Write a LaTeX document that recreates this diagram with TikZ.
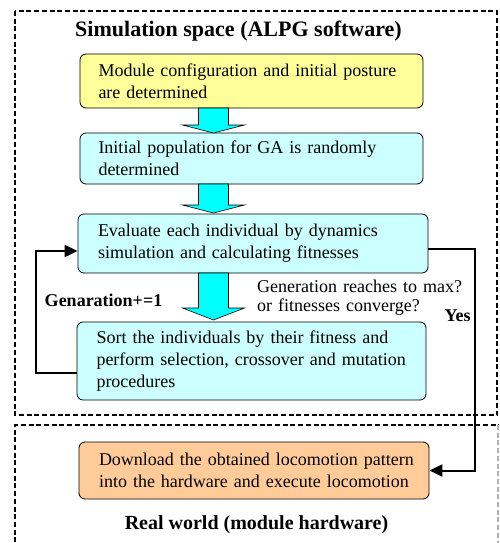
\documentclass[tikz,border=0pt]{standalone}
\usepackage{fontspec}
\setmainfont{Liberation Serif}
\usetikzlibrary{arrows.meta,calc}
\definecolor{boxyellow}{HTML}{FFFF99}
\definecolor{boxcyan}{HTML}{CCFFFF}
\definecolor{arrcyan}{HTML}{00FFFF}
\definecolor{boxorange}{HTML}{FFCC99}
\newcommand{\jline}[2]{\makebox[#1][s]{#2}}
\newcommand{\blkarrow}[3]{%
  \filldraw[fill=arrcyan,draw=black,line width=0.6pt]
    (198.5,#1) -- (228.5,#1) -- (228.5,#2) -- (244.5,#2) -- (213.5,#3)
    -- (182.5,#2) -- (198.5,#2) -- cycle;}
\begin{document}
\begin{tikzpicture}[x=1pt,y=-1pt,
  stagebox/.style={draw=black,line width=0.8pt,rounded corners=6pt,inner sep=0pt,
    align=left,font=\fontsize{18}{22}\selectfont},
  conn/.style={draw=black,line width=2pt,-{Triangle[length=13pt,width=12pt]}},
  frame/.style={line width=2pt,dash pattern=on 5pt off 2.7pt},
  bold/.style={font=\fontsize{#1}{#1}\selectfont\bfseries,inner sep=0pt}
]
\useasboundingbox (0,0) rectangle (499,543);

% dashed frames
\draw[frame] (15,11) rectangle (497,415);
\draw[frame] (15,550) -- (15,425) -- (499,425);
\draw[frame,draw=black!30,line width=1.2pt] (498,425) -- (498,550);

% title
\node[bold=22] (title) at (238.5,31) {Simulation space (ALPG software)};

% boxes
\node[stagebox,fill=boxyellow,text width=306pt,minimum width=343pt,minimum height=54pt]
  (b1) at (251.5,81) {\jline{306pt}{Module configuration and initial posture}\\are determined};
\node[stagebox,fill=boxcyan,text width=306pt,minimum width=343pt,minimum height=51pt]
  (b2) at (251.5,158.5) {\jline{306pt}{Initial population for GA is randomly}\\determined};
\node[stagebox,fill=boxcyan,text width=310pt,minimum width=350pt,minimum height=59pt]
  (b3) at (253,243.5) {\jline{310pt}{Evaluate each individual by dynamics}\\simulation and calculating fitnesses};
\node[stagebox,fill=boxcyan,text width=310pt,minimum width=349pt,minimum height=78pt]
  (b4) at (251.5,361) {\jline{310pt}{Sort the individuals by their fitness and}\\\jline{310pt}{perform selection, crossover and mutation}\\procedures};
\node[stagebox,fill=boxorange,text width=310pt,minimum width=350pt,minimum height=57pt]
  (b5) at (254,470.5) {\jline{310pt}{Download the obtained locomotion pattern}\\into the hardware and execute locomotion};

% block arrows
\blkarrow{108}{125}{133}
\blkarrow{184}{205}{213}
\blkarrow{273}{308}{320}

% loop connector
\coordinate (l1) at (36,373);
\coordinate (l2) at (36,251);
\draw[conn] (b4.west |- l1) -- (l1) -- (l2) -- (b3.west |- l2);
\node[bold=18] (gen) at (103.5,300) {Genaration+=1};

% yes connector
\coordinate (r1) at (475,249);
\coordinate (r2) at (475,470.5);
\draw[conn] (b3.east |- r1) -- (r1) -- (r2) -- (b5.east |- r2);

\node[inner sep=0pt,align=left,font=\fontsize{18}{19}\selectfont,text width=218pt,anchor=north west]
  (cond) at (257,280) {\jline{218pt}{Generation reaches to max?}\\or fitnesses converge?};
\node[bold=18] (yes) at (457.5,316) {Yes};

\node[bold=20] (real) at (256.5,525) {Real world (module hardware)};
\end{tikzpicture}
\end{document}
